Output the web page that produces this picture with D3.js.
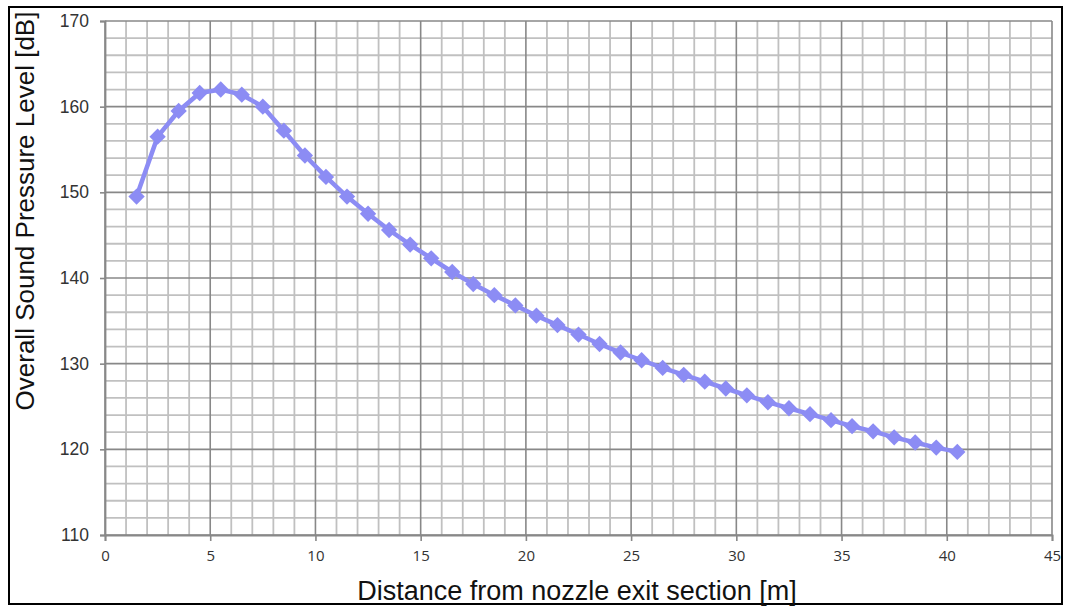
<!DOCTYPE html>
<html>
<head>
<meta charset="utf-8">
<script src="https://cdn.jsdelivr.net/npm/d3@7"></script>
<style>
  body { margin: 0; background: #fff; }
  svg { display: block; }
</style>
</head>
<body>
<svg id="chart" width="1066" height="606"></svg>
<script>
const distance = [1.5, 2.5, 3.5, 4.5, 5.5, 6.5, 7.5, 8.5, 9.5, 10.5,
  11.5, 12.5, 13.5, 14.5, 15.5, 16.5, 17.5, 18.5, 19.5, 20.5,
  21.5, 22.5, 23.5, 24.5, 25.5, 26.5, 27.5, 28.5, 29.5, 30.5,
  31.5, 32.5, 33.5, 34.5, 35.5, 36.5, 37.5, 38.5, 39.5, 40.5];
const spl = [149.5, 156.5, 159.5, 161.6, 162.0, 161.4, 160.0, 157.2, 154.3, 151.8,
  149.5, 147.5, 145.6, 143.9, 142.3, 140.7, 139.3, 138.0, 136.8, 135.6,
  134.5, 133.4, 132.3, 131.3, 130.4, 129.5, 128.7, 127.9, 127.1, 126.3,
  125.5, 124.8, 124.1, 123.4, 122.7, 122.1, 121.4, 120.8, 120.2, 119.7];
const xTicks = [0, 5, 10, 15, 20, 25, 30, 35, 40, 45];
const yTicks = [110, 120, 130, 140, 150, 160, 170];

const data = distance.map((d, i) => ({ x: d, y: spl[i] }));

const svg = d3.select("#chart");
const margin = { top: 21, right: 14, bottom: 71, left: 105 };
const width = 1066, height = 606;
const innerWidth = width - margin.left - margin.right;
const innerHeight = height - margin.top - margin.bottom;
const lineColor = "#8c8cf4";

// outer frame
svg.append("rect")
  .attr("x", 9).attr("y", 7)
  .attr("width", 1053).attr("height", 597)
  .attr("fill", "#fff")
  .attr("stroke", "#000")
  .attr("stroke-width", 2);

const g = svg.append("g").attr("transform", `translate(${margin.left},${margin.top})`);

const xScale = d3.scaleLinear().domain([0, 45]).range([0, innerWidth]);
const yScale = d3.scaleLinear().domain([110, 170]).range([innerHeight, 0]);

// minor grid
g.append("g")
  .selectAll("line")
  .data(d3.range(1, 45).filter((d) => d % 5 !== 0))
  .enter()
  .append("line")
  .attr("x1", (d) => xScale(d)).attr("x2", (d) => xScale(d))
  .attr("y1", 0).attr("y2", innerHeight)
  .attr("stroke", "#c0c0c0").attr("stroke-width", 1.8);

g.append("g")
  .selectAll("line")
  .data(d3.range(112, 170, 2).filter((d) => d % 10 !== 0))
  .enter()
  .append("line")
  .attr("x1", 0).attr("x2", innerWidth)
  .attr("y1", (d) => yScale(d)).attr("y2", (d) => yScale(d))
  .attr("stroke", "#c0c0c0").attr("stroke-width", 1.8);

// major grid
g.append("g")
  .selectAll("line")
  .data(xTicks)
  .enter()
  .append("line")
  .attr("x1", (d) => xScale(d)).attr("x2", (d) => xScale(d))
  .attr("y1", 0).attr("y2", innerHeight)
  .attr("stroke", "#888").attr("stroke-width", 1.6);

g.append("g")
  .selectAll("line")
  .data(yTicks)
  .enter()
  .append("line")
  .attr("x1", 0).attr("x2", innerWidth)
  .attr("y1", (d) => yScale(d)).attr("y2", (d) => yScale(d))
  .attr("stroke", "#888").attr("stroke-width", 1.6);

// axes
const xAxis = d3.axisBottom(xScale).tickValues(xTicks).tickSize(6).tickPadding(9);
const yAxis = d3.axisLeft(yScale).tickValues(yTicks).tickSize(5).tickPadding(11);

const xAxisG = g.append("g")
  .attr("transform", `translate(0,${innerHeight})`)
  .call(xAxis);
xAxisG.selectAll("text")
  .style("font-family", "'Open Sans', sans-serif")
  .style("font-size", "15px")
  .attr("fill", "#333");

const yAxisG = g.append("g").call(yAxis);
yAxisG.selectAll("text")
  .style("font-family", "'Liberation Sans', Arial, sans-serif")
  .style("font-size", "17.5px")
  .attr("fill", "#333");

g.selectAll(".domain").attr("stroke", "#888").attr("stroke-width", 1.8);
g.selectAll(".tick line").attr("stroke", "#888").attr("stroke-width", 1.6);

// line + markers
const line = d3.line()
  .x((d) => xScale(d.x))
  .y((d) => yScale(d.y));

g.append("path")
  .datum(data)
  .attr("d", line)
  .attr("fill", "none")
  .attr("stroke", lineColor)
  .attr("stroke-width", 4.5);

g.selectAll(".marker")
  .data(data)
  .enter()
  .append("path")
  .attr("class", "marker")
  .attr("d", d3.symbol().type(d3.symbolDiamond2).size(170))
  .attr("transform", (d) => `translate(${xScale(d.x)},${yScale(d.y)})`)
  .attr("fill", lineColor);

// axis titles
svg.append("text")
  .attr("x", 577)
  .attr("y", 600)
  .attr("text-anchor", "middle")
  .style("font-family", "'Liberation Sans', Arial, sans-serif")
  .style("font-size", "27px")
  .attr("fill", "#111")
  .text("Distance from nozzle exit section [m]");

svg.append("text")
  .attr("transform", "rotate(-90)")
  .attr("x", -211)
  .attr("y", 34)
  .attr("text-anchor", "middle")
  .style("font-family", "'Liberation Sans', Arial, sans-serif")
  .style("font-size", "26px")
  .attr("fill", "#111")
  .text("Overall Sound Pressure Level [dB]");
</script>
</body>
</html>
